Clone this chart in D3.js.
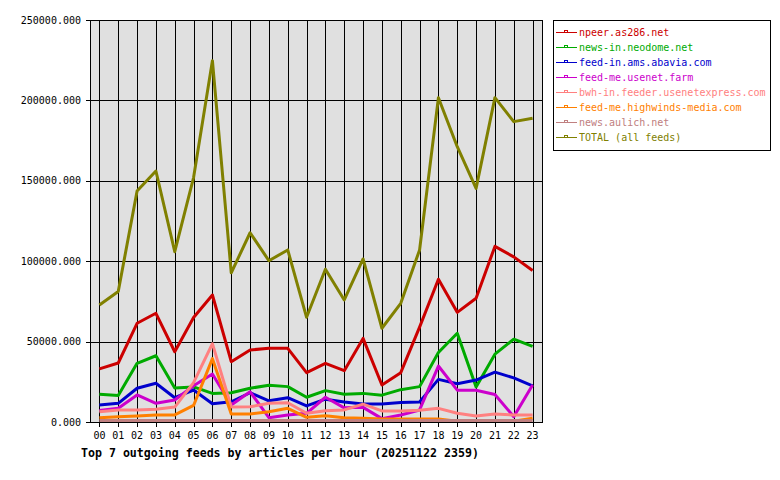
<!DOCTYPE html>
<meta charset="utf-8">
<html>
<head>
  <title>Outgoing feeds</title>
  <style type="text/css">
    body{margin:0; background:#fff;}
    text{font-family:"DejaVu Sans Mono", monospace; font-size:10px;}
  </style>
</head>
<body>
  <script src="https://cdn.jsdelivr.net/npm/d3@7/dist/d3.min.js"></script>
  <script>
    var hours = ['00','01','02','03','04','05','06','07','08','09','10','11',
                 '12','13','14','15','16','17','18','19','20','21','22','23'];
    var yTicks = [0, 50000, 100000, 150000, 200000, 250000];

    var feedNames = ['npeer.as286.net', 'news-in.neodome.net', 'feed-in.ams.abavia.com',
                     'feed-me.usenet.farm', 'bwh-in.feeder.usenetexpress.com',
                     'feed-me.highwinds-media.com', 'news.aulich.net', 'TOTAL (all feeds)'];
    var feedColors = ['#cc0000', '#00aa00', '#0000cc', '#cc00cc', '#ff8080', '#ff8000', '#c08080', '#808000'];

    var npeer = [33000,36700,61400,67600,43700,65000,79000,37500,44800,45800,45800,30700,
                 36500,31900,52000,23000,30700,59000,88800,68200,77000,109200,102700,94200];
    var neodome = [17200,16500,36500,41200,21200,21800,17800,18200,21000,22800,22000,15400,
                   19500,17300,17800,16700,20100,22000,43200,55200,21800,42200,51500,47000];
    var abavia = [10500,11600,21000,24100,15100,19900,11300,12600,18200,13200,15100,10000,
                  14200,12400,11200,11200,12200,12500,26500,23800,26100,31000,27400,22500];
    var usenetfarm = [7100,8500,16800,11600,13700,22500,29800,10600,18800,2700,4400,5400,
                      15400,8800,9100,2100,4400,7500,34800,19800,19700,17100,3300,23000];
    var usenetexpress = [6400,7500,7500,8000,9300,24500,48700,9300,9500,11600,12000,5400,
                         7000,7500,11100,6900,6900,7300,8500,5400,3800,5000,4400,4400];
    var highwinds = [2700,3200,3700,4400,4400,10300,39400,5000,5000,6400,8500,2900,
                     3900,2700,2300,1900,1900,1900,1900,500,500,500,500,2300];
    var aulich = [1000,1000,1000,1000,1000,1000,1000,1000,1000,1000,1000,1000,
                  1000,1000,1000,1000,1000,1000,1000,1000,1000,1000,1000,1000];
    var total = [72800,81200,143700,156100,105900,152000,224700,92800,117700,100300,107000,65100,
                 95000,75900,101400,58300,73800,107000,201700,171200,145300,201700,186800,188900];

    var series = [npeer, neodome, abavia, usenetfarm, usenetexpress, highwinds, aulich, total];

    var width = 780,
        height = 480,
        plotLeft = 90, plotRight = 542, plotTop = 20, plotBottom = 422;

    var svg = d3.select('body')
        .append('svg')
        .attr('width', width)
        .attr('height', height);

    var x = d3.scaleLinear().domain([-0.5, 23.5]).range([plotLeft, plotRight]);
    var y = d3.scaleLinear().domain([0, 250000]).range([plotBottom, plotTop]);

    // plot background
    svg.append('rect')
      .attr('x', plotLeft).attr('y', plotTop)
      .attr('width', plotRight - plotLeft).attr('height', plotBottom - plotTop)
      .style('fill', '#e0e0e0');

    // grid
    var grid = svg.append('g').attr('shape-rendering', 'crispEdges').style('stroke', '#000');
    grid.selectAll('.vg').data(hours).enter().append('line')
      .attr('x1', function(d, i){return Math.round(x(i)) + 0.5})
      .attr('x2', function(d, i){return Math.round(x(i)) + 0.5})
      .attr('y1', plotTop).attr('y2', plotBottom + 5);
    grid.selectAll('.hg').data(yTicks).enter().append('line')
      .attr('x1', plotLeft - 4).attr('x2', plotRight)
      .attr('y1', function(d){return Math.round(y(d)) + 0.5})
      .attr('y2', function(d){return Math.round(y(d)) + 0.5});

    // series lines
    var line = d3.line()
      .x(function(d, i){return x(i)})
      .y(function(d){return y(d)});

    svg.selectAll('.series').data(series).enter().append('path')
      .attr('d', line)
      .style('fill', 'none')
      .style('stroke', function(d, i){return feedColors[i]})
      .style('stroke-width', 3)
      .style('stroke-linejoin', 'round');

    // frame
    svg.append('rect')
      .attr('x', plotLeft + 0.5).attr('y', plotTop + 0.5)
      .attr('width', plotRight - plotLeft).attr('height', plotBottom - plotTop)
      .attr('shape-rendering', 'crispEdges')
      .style('fill', 'none').style('stroke', '#000');

    // axis labels
    svg.selectAll('.ylab').data(yTicks).enter().append('text')
      .attr('x', 81).attr('y', function(d){return y(d)})
      .attr('dy', '0.35em')
      .attr('text-anchor', 'end')
      .text(d3.format('.3f'));

    svg.selectAll('.xlab').data(hours).enter().append('text')
      .attr('x', function(d, i){return x(i)})
      .attr('y', 439)
      .attr('text-anchor', 'middle')
      .text(function(d){return d});

    svg.append('text')
      .attr('x', 81).attr('y', 457)
      .style('font-size', '11.6px')
      .style('font-weight', 'bold')
      .text('Top 7 outgoing feeds by articles per hour (20251122 2359)');

    // legend
    var legend = svg.append('g');
    legend.append('rect')
      .attr('x', 553.5).attr('y', 20.5)
      .attr('width', 217).attr('height', 130)
      .attr('shape-rendering', 'crispEdges')
      .style('fill', '#fff').style('stroke', '#000');

    var items = legend.selectAll('.item').data(feedNames).enter().append('g')
      .attr('transform', function(d, i){return 'translate(0,' + (32.5 + i * 15) + ')'});
    items.append('line')
      .attr('x1', 556).attr('x2', 577).attr('y1', 0).attr('y2', 0)
      .attr('shape-rendering', 'crispEdges')
      .style('stroke', function(d, i){return feedColors[i]});
    items.append('rect')
      .attr('x', 564).attr('y', -2).attr('width', 3).attr('height', 2)
      .style('fill', 'none')
      .style('stroke', function(d, i){return feedColors[i]})
      .style('stroke-width', 1)
      .attr('shape-rendering', 'crispEdges');
    items.append('text')
      .attr('x', 579).attr('dy', '0.35em')
      .style('fill', function(d, i){return feedColors[i]})
      .text(function(d){return d});
  </script>
</body>
</html>
